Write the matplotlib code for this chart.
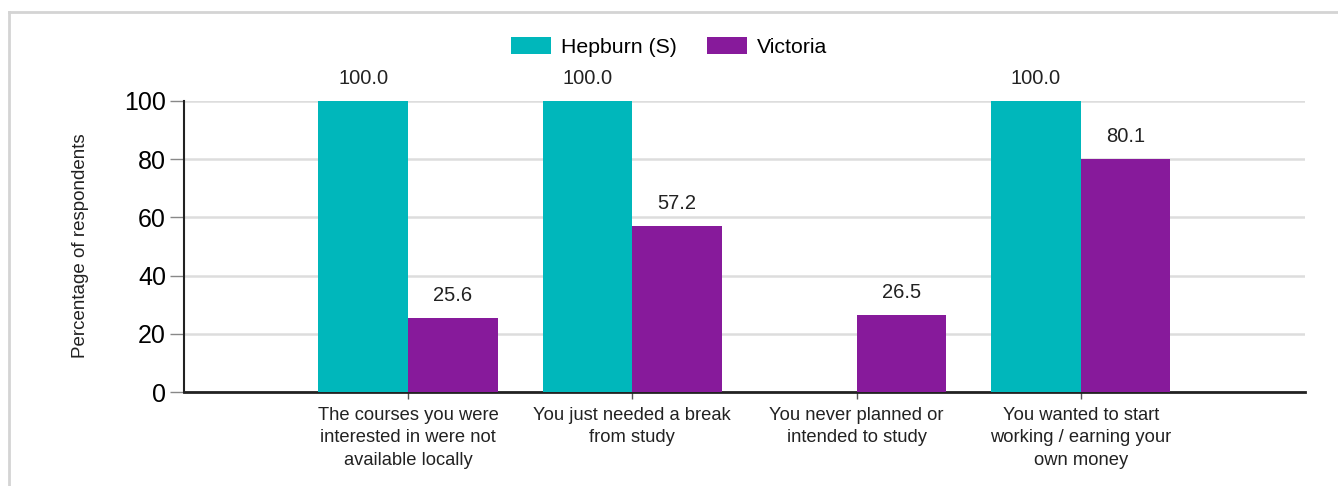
import numpy as np
import matplotlib
matplotlib.use('Agg')
import matplotlib.pyplot as plt
from matplotlib.lines import Line2D

plt.rcParams['font.family'] = ['Liberation Sans', 'DejaVu Sans']

# data
categories = ['The courses you were\ninterested in were not\navailable locally',
              'You just needed a break\nfrom study',
              'You never planned or\nintended to study',
              'You wanted to start\nworking / earning your\nown money']
hepburn = [100.0, 100.0, 0.0, 100.0]
victoria = [25.6, 57.2, 26.5, 80.1]
series_names = ['Hepburn (S)', 'Victoria']
yticks = [0, 20, 40, 60, 80, 100]

teal = '#00B7BB'
purple = '#871A9B'

fig = plt.figure(figsize=(13.38, 4.86), dpi=100)
ax = fig.add_axes([0.1375, 0.1934, 0.8378, 0.5988])

x = np.arange(len(categories))
w = 0.4
b1 = ax.bar(x - w / 2, hepburn, w, color=teal, label=series_names[0], zorder=3)
b2 = ax.bar(x + w / 2, victoria, w, color=purple, label=series_names[1], zorder=3)

# value labels (no label for zero bars)
for bars, vals in [(b1, hepburn), (b2, victoria)]:
    for r, v in zip(bars, vals):
        if v > 0:
            ax.annotate(f'{v:.1f}', (r.get_x() + r.get_width() / 2, v),
                        xytext=(0, 9), textcoords='offset points',
                        ha='center', va='bottom', fontsize=14.5, color='#222222',
                        annotation_clip=False)

ax.set_xlim(-1, 4)
ax.set_ylim(0, 100)
ax.set_yticks(yticks)
ax.set_xticks(x)
ax.set_xticklabels(categories, fontsize=13.2, color='#222222', linespacing=1.4)
ax.tick_params(axis='y', labelsize=18, length=10, width=1, color='#888888', pad=3)
ax.tick_params(axis='x', length=5, width=1, color='#555555', pad=6)
ax.yaxis.grid(True, color='#dddddd', linewidth=1.8, zorder=0)
ax.set_axisbelow(True)

for s in ['top', 'right']:
    ax.spines[s].set_visible(False)
ax.spines['left'].set_color('#222222')
ax.spines['left'].set_linewidth(1.5)
ax.spines['bottom'].set_color('#222222')
ax.spines['bottom'].set_linewidth(2)

fig.text(0.0598, 0.494, 'Percentage of respondents', rotation=90,
         ha='center', va='center', fontsize=13.5, color='#222222')

fig.legend(handles=[b1, b2], loc='center', bbox_to_anchor=(0.5, 0.903), ncol=2,
           frameon=False, fontsize=15.3, handlelength=1.88, handleheight=0.85,
           columnspacing=1.4, handletextpad=0.47)

# outer frame (top and left edges visible)
fig.add_artist(Line2D([9 / 1338, 1.0], [1 - 12 / 486, 1 - 12 / 486],
                      transform=fig.transFigure, color='#d4d4d4', linewidth=2))
fig.add_artist(Line2D([9 / 1338, 9 / 1338], [0, 1 - 12 / 486],
                      transform=fig.transFigure, color='#d4d4d4', linewidth=2))

fig.savefig('out.png', dpi=100)
